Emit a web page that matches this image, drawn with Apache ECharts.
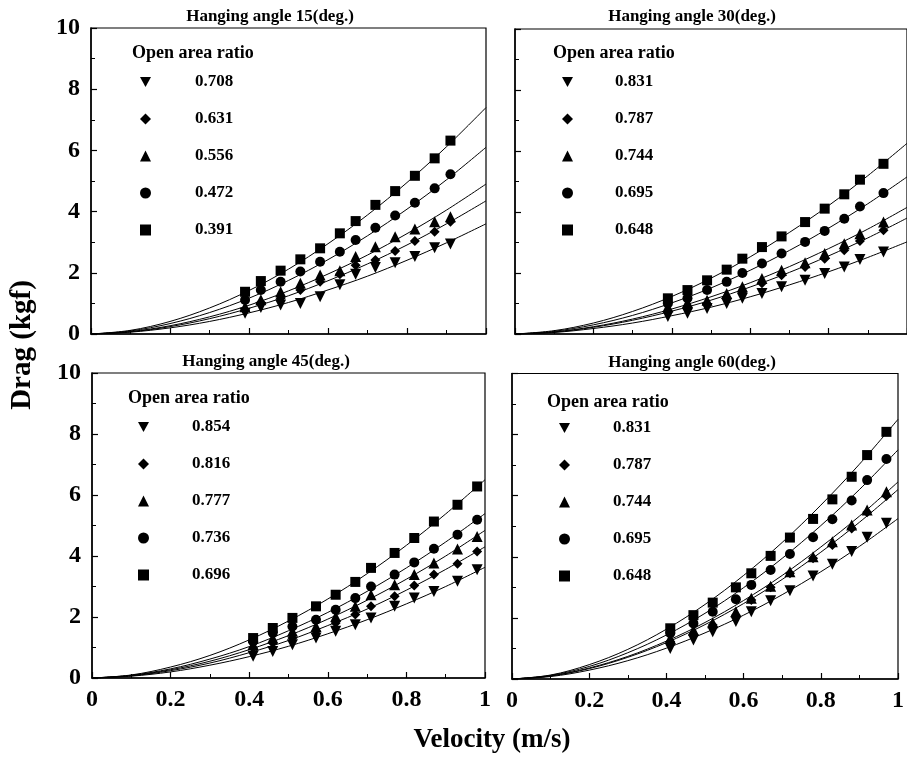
<!DOCTYPE html>
<html><head><meta charset="utf-8">
<script src="https://cdn.jsdelivr.net/npm/echarts@6/dist/echarts.min.js"></script>
<style>html,body{margin:0;padding:0;background:#fff}#c{width:907px;height:758px}</style>
</head><body><div id="c"></div>
<script>
// ---- tick labels & texts ----
const xTickLabels = ['0','0.2','0.4','0.6','0.8','1'];
const yTickLabels = ['0','2','4','6','8','10'];
const panelTitles = ['Hanging angle 15(deg.)','Hanging angle 30(deg.)','Hanging angle 45(deg.)','Hanging angle 60(deg.)'];
const legendTitle = 'Open area ratio';
const xName = 'Velocity (m/s)';
const yName = 'Drag (kgf)';

// ---- fitted-curve sample velocities ----
const curveV = [0,0.1,0.2,0.3,0.4,0.5,0.6,0.7,0.8,0.9,1.0];

// ---- 15 deg ----
const ratios15 = ['0.708','0.631','0.556','0.472','0.391'];
const v15 = [0.39,0.43,0.48,0.53,0.58,0.63,0.67,0.72,0.77,0.82,0.87,0.91];
const drag15_0708 = [0.68,0.87,0.95,1.00,1.22,1.61,1.95,2.17,2.33,2.53,2.82,2.94];
const drag15_0631 = [0.78,1.03,1.17,1.44,1.71,1.95,2.25,2.42,2.71,3.04,3.34,3.67];
const drag15_0556 = [0.89,1.12,1.38,1.66,1.93,2.07,2.53,2.85,3.18,3.43,3.67,3.83];
const drag15_0472 = [1.11,1.44,1.71,2.04,2.36,2.69,3.07,3.47,3.87,4.29,4.76,5.22];
const drag15_0391 = [1.38,1.73,2.07,2.44,2.80,3.29,3.69,4.22,4.67,5.17,5.74,6.32];
const fit15_0708 = [0,0.06,0.20,0.41,0.69,1.03,1.44,1.89,2.41,2.98,3.60];
const fit15_0631 = [0,0.07,0.24,0.50,0.84,1.25,1.74,2.29,2.91,3.60,4.35];
const fit15_0556 = [0,0.08,0.27,0.56,0.94,1.41,1.96,2.58,3.28,4.05,4.90];
const fit15_0472 = [0,0.10,0.34,0.70,1.17,1.75,2.43,3.21,4.08,5.04,6.10];
const fit15_0391 = [0,0.12,0.41,0.85,1.42,2.12,2.95,3.89,4.95,6.12,7.40];

// ---- 30 deg ----
const ratios30 = ['0.831','0.787','0.744','0.695','0.648'];
const v30 = [0.39,0.44,0.49,0.54,0.58,0.63,0.68,0.74,0.79,0.84,0.88,0.94];
const drag30_0831 = [0.57,0.68,0.84,1.00,1.17,1.33,1.55,1.76,1.98,2.20,2.44,2.69];
const drag30_0787 = [0.73,0.83,0.97,1.18,1.38,1.66,1.93,2.20,2.47,2.75,3.05,3.40];
const drag30_0744 = [0.89,1.03,1.11,1.33,1.55,1.82,2.09,2.34,2.64,2.96,3.29,3.67];
const drag30_0695 = [1.00,1.17,1.44,1.71,2.00,2.31,2.64,3.02,3.38,3.78,4.18,4.62];
const drag30_0648 = [1.17,1.44,1.76,2.11,2.47,2.85,3.20,3.67,4.11,4.58,5.06,5.58];
const fit30_0831 = [0,0.05,0.18,0.36,0.60,0.88,1.22,1.61,2.04,2.51,3.02];
const fit30_0787 = [0,0.06,0.22,0.45,0.75,1.11,1.54,2.02,2.56,3.15,3.80];
const fit30_0744 = [0,0.07,0.24,0.49,0.82,1.22,1.68,2.21,2.80,3.44,4.15];
const fit30_0695 = [0,0.09,0.30,0.61,1.02,1.51,2.09,2.74,3.47,4.27,5.15];
const fit30_0648 = [0,0.11,0.36,0.74,1.23,1.83,2.53,3.33,4.21,5.19,6.25];

// ---- 45 deg ----
const ratios45 = ['0.854','0.816','0.777','0.736','0.696'];
const v45 = [0.41,0.46,0.51,0.57,0.62,0.67,0.71,0.77,0.82,0.87,0.93,0.98];
const drag45_0854 = [0.71,0.87,1.09,1.31,1.53,1.75,1.97,2.35,2.62,2.84,3.17,3.55];
const drag45_0816 = [0.98,1.15,1.31,1.53,1.80,2.08,2.35,2.68,3.03,3.39,3.75,4.15];
const drag45_0777 = [1.09,1.31,1.53,1.69,2.02,2.35,2.73,3.06,3.39,3.77,4.23,4.64];
const drag45_0736 = [1.20,1.48,1.69,1.91,2.24,2.62,3.00,3.39,3.79,4.24,4.70,5.19];
const drag45_0696 = [1.31,1.64,1.97,2.35,2.73,3.15,3.61,4.10,4.59,5.13,5.68,6.28];
const fit45_0854 = [0,0.06,0.20,0.42,0.70,1.04,1.45,1.91,2.43,3.00,3.63];
const fit45_0816 = [0,0.07,0.24,0.49,0.83,1.23,1.72,2.26,2.88,3.56,4.30];
const fit45_0777 = [0,0.08,0.27,0.55,0.93,1.39,1.93,2.55,3.24,4.00,4.84];
const fit45_0736 = [0,0.09,0.30,0.62,1.03,1.55,2.15,2.84,3.61,4.46,5.39];
const fit45_0696 = [0,0.10,0.36,0.74,1.25,1.87,2.59,3.42,4.35,5.38,6.50];

// ---- 60 deg ----
const ratios60 = ['0.831','0.787','0.744','0.695','0.648'];
const v60 = [0.41,0.47,0.52,0.58,0.62,0.67,0.72,0.78,0.83,0.88,0.92,0.97];
const drag60_0831 = [1.00,1.28,1.55,1.88,2.20,2.56,2.89,3.37,3.76,4.17,4.64,5.10];
const drag60_0787 = [1.22,1.44,1.77,2.09,2.59,3.00,3.46,3.95,4.39,4.93,5.46,5.99];
const drag60_0744 = [1.33,1.60,1.84,2.20,2.64,3.04,3.51,4.00,4.49,5.04,5.53,6.13];
const drag60_0695 = [1.50,1.82,2.20,2.61,3.08,3.57,4.09,4.64,5.23,5.84,6.51,7.20];
const drag60_0648 = [1.66,2.09,2.50,3.00,3.46,4.03,4.63,5.24,5.88,6.62,7.33,8.09];
const fit60_0831 = [0,0.08,0.29,0.60,1.01,1.51,2.09,2.76,3.51,4.34,5.25];
const fit60_0787 = [0,0.10,0.34,0.71,1.19,1.78,2.47,3.26,4.15,5.13,6.20];
const fit60_0744 = [0,0.10,0.36,0.74,1.24,1.85,2.57,3.39,4.32,5.33,6.45];
const fit60_0695 = [0,0.12,0.41,0.86,1.44,2.15,2.99,3.95,5.02,6.20,7.50];
const fit60_0648 = [0,0.13,0.47,0.97,1.63,2.44,3.39,4.47,5.69,7.03,8.50];

// ---- assemble ----
const FONT = 'Liberation Serif';
const panels = [
  {v:v15, names:ratios15, pts:[drag15_0708,drag15_0631,drag15_0556,drag15_0472,drag15_0391], fits:[fit15_0708,fit15_0631,fit15_0556,fit15_0472,fit15_0391]},
  {v:v30, names:ratios30, pts:[drag30_0831,drag30_0787,drag30_0744,drag30_0695,drag30_0648], fits:[fit30_0831,fit30_0787,fit30_0744,fit30_0695,fit30_0648]},
  {v:v45, names:ratios45, pts:[drag45_0854,drag45_0816,drag45_0777,drag45_0736,drag45_0696], fits:[fit45_0854,fit45_0816,fit45_0777,fit45_0736,fit45_0696]},
  {v:v60, names:ratios60, pts:[drag60_0831,drag60_0787,drag60_0744,drag60_0695,drag60_0648], fits:[fit60_0831,fit60_0787,fit60_0744,fit60_0695,fit60_0648]}
];
const DOWN_TRI = 'path://M0,0L10,0L5,9Z';
const symbols = [[DOWN_TRI,11],['diamond',10],['triangle',11],['circle',10],['rect',10]];

const gridBoxes = [
  {left:91, top:28, width:395, height:306},
  {left:515, top:29, width:395, height:305},
  {left:92, top:373, width:393, height:305},
  {left:512, top:373.5, width:394, height:305.5}
];
const legendPos = [
  {left:140, top:73.5, pad:39, gap:20},
  {left:562, top:73.5, pad:37, gap:20},
  {left:138, top:418.5, pad:38, gap:20},
  {left:559, top:419.5, pad:38, gap:20}
];
const titlePos = [[270,17],[692,17],[266,362],[692,363]];
const legendTitlePos = [[132,53],[553,53],[128,398],[547,402]];

const xMin = Number(xTickLabels[0]), xMax = Number(xTickLabels[xTickLabels.length-1]);
const xInt = Number(xTickLabels[1]) - xMin;
const yMin = Number(yTickLabels[0]), yMax = Number(yTickLabels[yTickLabels.length-1]);
const yInt = Number(yTickLabels[1]) - yMin;

const grids = [], xAxes = [], yAxes = [], series = [], legends = [], graphics = [];
panels.forEach((p, i) => {
  grids.push(Object.assign({show:true, borderColor:'#000', borderWidth:1.2, backgroundColor:'transparent', containLabel:false}, gridBoxes[i]));
  const showX = i >= 2, showY = i % 2 === 0;
  xAxes.push({
    type:'value', gridIndex:i, min:xMin, max:xMax, interval:xInt,
    axisLine:{show:true, onZero:false, lineStyle:{color:'#000', width:1.5}},
    axisTick:{show:true, inside:true, length:6, lineStyle:{color:'#000', width:1.2}},
    minorTick:{show:true, splitNumber:2, length:4, lineStyle:{color:'#000', width:1}},
    splitLine:{show:false},
    axisLabel:{show:showX, margin:10, color:'#000', fontFamily:FONT, fontWeight:'bold', fontSize:24,
      formatter: val => xTickLabels[Math.round((val - xMin)/xInt)]}
  });
  yAxes.push({
    type:'value', gridIndex:i, min:yMin, max:yMax, interval:yInt,
    axisLine:{show:true, onZero:false, lineStyle:{color:'#000', width:1.5}},
    axisTick:{show:true, inside:true, length:6, lineStyle:{color:'#000', width:1.2}},
    minorTick:{show:true, splitNumber:2, length:4, lineStyle:{color:'#000', width:1}},
    splitLine:{show:false},
    axisLabel:{show:showY, margin:11, color:'#000', fontFamily:FONT, fontWeight:'bold', fontSize:24,
      formatter: val => yTickLabels[Math.round((val - yMin)/yInt)]}
  });
  p.fits.forEach((f, k) => {
    series.push({
      type:'line', name:'fit'+i+'_'+k, xAxisIndex:i, yAxisIndex:i, smooth:0.35,
      showSymbol:false, symbol:'none', silent:true, z:1,
      lineStyle:{color:'#000', width:1},
      data: curveV.map((x, j) => [x, f[j]])
    });
  });
  p.pts.forEach((arr, k) => {
    const s = symbols[k];
    series.push({
      type:'scatter', name:p.names[k], xAxisIndex:i, yAxisIndex:i, z:3,
      symbol:s[0], symbolSize:s[1],
      itemStyle:{color:'#000', opacity:1},
      data: p.v.map((x, j) => [x, arr[j]])
    });
  });
  const lp = legendPos[i];
  legends.push({
    orient:'vertical', left:lp.left, top:lp.top, padding:0, itemGap:lp.gap, itemWidth:11, itemHeight:11,
    selectedMode:false, data:p.names.slice(),
    itemStyle:{opacity:1},
    textStyle:{color:'#000', fontFamily:FONT, fontWeight:'bold', fontSize:17, lineHeight:17, padding:[0,0,0,lp.pad]}
  });
  graphics.push({type:'text', x:titlePos[i][0], y:titlePos[i][1],
    style:{text:panelTitles[i], fill:'#000', font:'bold 17px "Liberation Serif"', textAlign:'center', textVerticalAlign:'middle'}});
  graphics.push({type:'text', x:legendTitlePos[i][0], y:legendTitlePos[i][1],
    style:{text:legendTitle, fill:'#000', font:'bold 18px "Liberation Serif"', textAlign:'left', textVerticalAlign:'middle'}});
});
graphics.push({type:'text', x:492, y:740,
  style:{text:xName, fill:'#000', font:'bold 27px "Liberation Serif"', textAlign:'center', textVerticalAlign:'middle'}});
graphics.push({type:'text', x:23, y:345, rotation:Math.PI/2,
  style:{text:yName, fill:'#000', font:'bold 29px "Liberation Serif"', textAlign:'center', textVerticalAlign:'middle'}});

const chart = echarts.init(document.getElementById('c'), null, {renderer:'canvas'});
chart.setOption({
  animation:false,
  backgroundColor:'#fff',
  grid:grids, xAxis:xAxes, yAxis:yAxes, legend:legends, series:series, graphic:graphics
});
</script></body></html>
